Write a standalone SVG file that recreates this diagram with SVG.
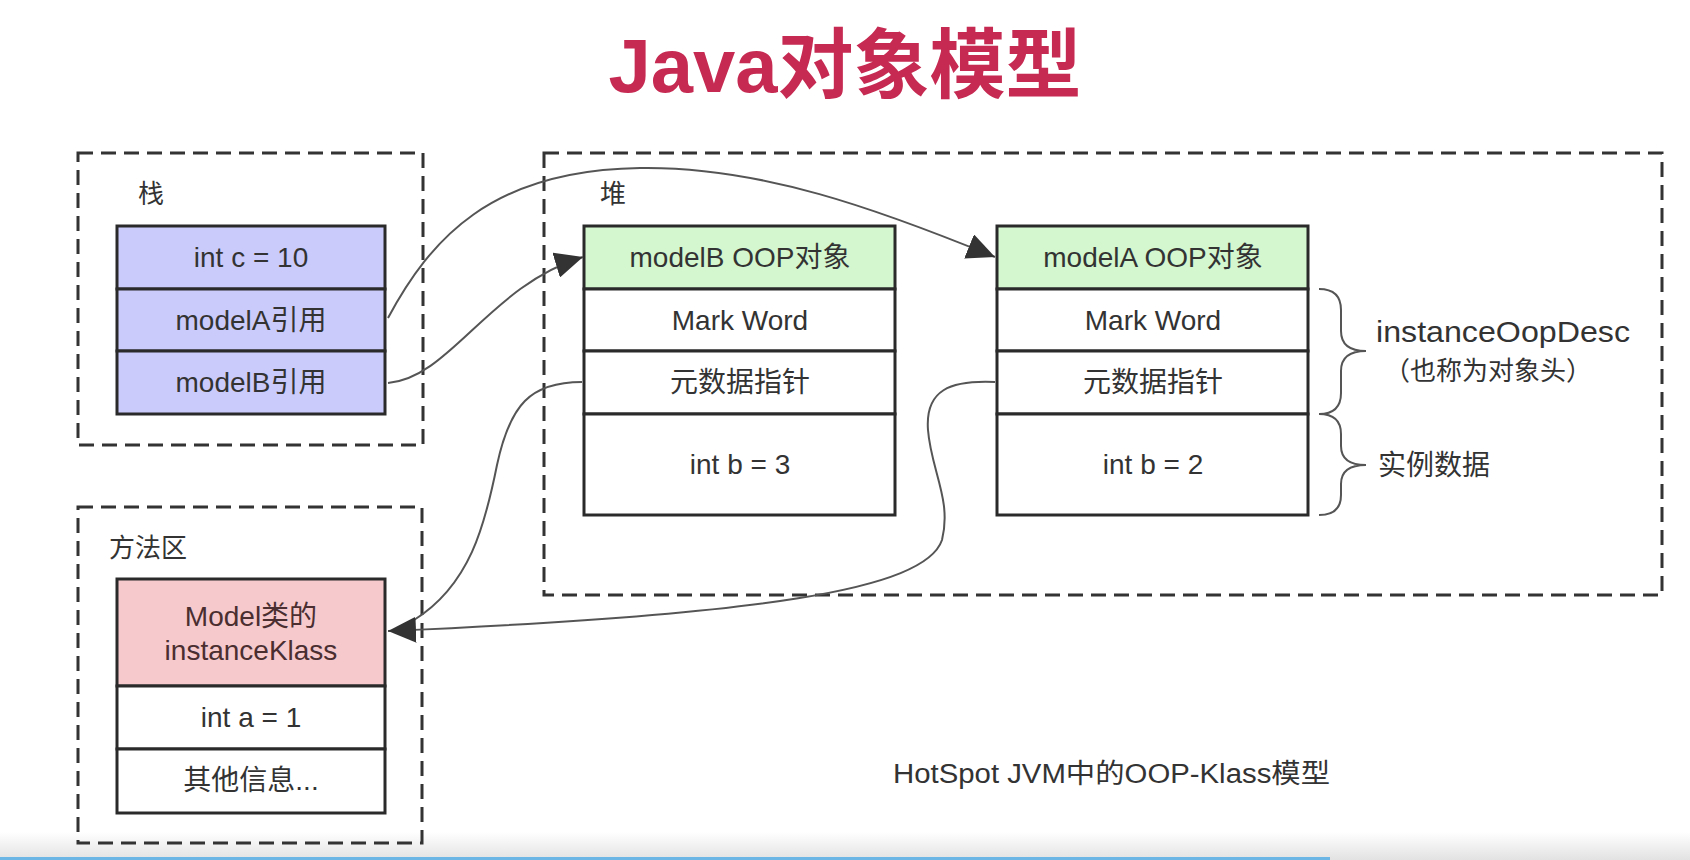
<svg xmlns="http://www.w3.org/2000/svg" width="1690" height="860" viewBox="0 0 1690 860">
<defs>
<style>
.t{font-family:"Liberation Sans","Noto Sans CJK SC",sans-serif;fill:#333;}
.bt{font-size:28px;text-anchor:middle;dominant-baseline:central;}
.lbl{font-size:26px;dominant-baseline:central;}
.region{fill:none;stroke:#333;stroke-width:3;stroke-dasharray:15 8;}
.cell{stroke:#2a2a2a;stroke-width:3;}
.stk{fill:#cbcbfb;}
.hdr{fill:#d4f7cf;}
.wht{fill:#ffffff;}
.pnk{fill:#f6c9cd;}
.conn{fill:none;stroke:#555;stroke-width:2;}
.brace{fill:none;stroke:#555;stroke-width:2;}
</style>
<marker id="arr" markerUnits="userSpaceOnUse" markerWidth="30" markerHeight="26" refX="28" refY="13" orient="auto">
<path d="M0,0 L28,13 L0,26 z" fill="#333"/>
</marker>
<linearGradient id="bar" x1="0" y1="0" x2="0" y2="1">
<stop offset="0" stop-color="#ffffff"/>
<stop offset="1" stop-color="#e2e2e2"/>
</linearGradient>
</defs>
<rect width="1690" height="860" fill="#ffffff"/>
<rect x="0" y="832" width="1690" height="28" fill="url(#bar)"/>
<line x1="0" y1="858.5" x2="1330" y2="858.5" stroke="#6cb6e6" stroke-width="3"/>

<text id="title" class="t" x="845" y="92" font-size="76" font-weight="700" text-anchor="middle" style="fill:#c62a52">Java对象模型</text>

<g id="stack">
<rect class="region" x="78" y="153" width="345" height="292"/>
<text class="t lbl" x="138" y="194">栈</text>
<rect class="cell stk" x="117" y="226" width="268" height="63"/>
<rect class="cell stk" x="117" y="289" width="268" height="62"/>
<rect class="cell stk" x="117" y="351" width="268" height="63"/>
<text class="t bt" x="251" y="257">int c = 10</text>
<text class="t bt" x="251" y="320">modelA引用</text>
<text class="t bt" x="251" y="382">modelB引用</text>
</g>

<g id="method-area">
<rect class="region" x="78" y="507" width="344" height="336"/>
<text class="t lbl" x="109" y="548">方法区</text>
<rect class="cell pnk" x="117" y="579" width="268" height="107"/>
<rect class="cell wht" x="117" y="686" width="268" height="63"/>
<rect class="cell wht" x="117" y="749" width="268" height="64"/>
<text class="t bt" x="251" y="616" style="fill:#4a2e30">Model类的</text>
<text class="t bt" x="251" y="650" style="fill:#4a2e30">instanceKlass</text>
<text class="t bt" x="251" y="717">int a = 1</text>
<text class="t bt" x="251" y="780">其他信息...</text>
</g>

<g id="heap">
<rect class="region" x="544" y="153" width="1118" height="442"/>
<text class="t lbl" x="600" y="194">堆</text>
</g>

<g id="modelB-oop">
<rect class="cell hdr" x="584" y="226" width="311" height="63"/>
<rect class="cell wht" x="584" y="289" width="311" height="62"/>
<rect class="cell wht" x="584" y="351" width="311" height="63"/>
<rect class="cell wht" x="584" y="414" width="311" height="101"/>
<text class="t bt" x="740" y="257">modelB OOP对象</text>
<text class="t bt" x="740" y="320">Mark Word</text>
<text class="t bt" x="740" y="382">元数据指针</text>
<text class="t bt" x="740" y="464">int b = 3</text>
</g>

<g id="modelA-oop">
<rect class="cell hdr" x="997" y="226" width="311" height="63"/>
<rect class="cell wht" x="997" y="289" width="311" height="62"/>
<rect class="cell wht" x="997" y="351" width="311" height="63"/>
<rect class="cell wht" x="997" y="414" width="311" height="101"/>
<text class="t bt" x="1153" y="257">modelA OOP对象</text>
<text class="t bt" x="1153" y="320">Mark Word</text>
<text class="t bt" x="1153" y="382">元数据指针</text>
<text class="t bt" x="1153" y="464">int b = 2</text>
</g>

<g id="header-brace">
<path class="brace" d="M1319 289 Q1341 289 1341 310 L1341 331 Q1341 351 1366 351 Q1341 351 1341 371 L1341 393 Q1341 414 1319 414"/>
<text class="t" x="1376" y="342" font-size="30" textLength="254" lengthAdjust="spacingAndGlyphs">instanceOopDesc</text>
<text class="t" x="1384" y="380" font-size="26">（也称为对象头）</text>
</g>

<g id="data-brace">
<path class="brace" d="M1319 414 Q1341 414 1341 434 L1341 446 Q1341 465 1366 465 Q1341 465 1341 484 L1341 495 Q1341 515 1319 515"/>
<text class="t" x="1378" y="475" font-size="28">实例数据</text>
</g>

<g id="caption">
<text class="t" x="893" y="783" font-size="27" textLength="437" lengthAdjust="spacingAndGlyphs">HotSpot JVM中的OOP-Klass模型</text>
</g>

<g id="connectors">
<path class="conn" marker-end="url(#arr)" d="M388 318 C430 240 490 170 640 168 C760 166 880 210 995 257"/>
<path class="conn" marker-end="url(#arr)" d="M388 383 C450 378 490 285 583 257"/>
<path class="conn" d="M582 382 C530 382 510 405 497 465 C485 525 470 585 414 620"/>
<path class="conn" marker-end="url(#arr)" d="M995 382 C950 380 925 390 928 430 C931 470 952 500 942 540 C925 590 760 615 388 631"/>
</g>
</svg>
